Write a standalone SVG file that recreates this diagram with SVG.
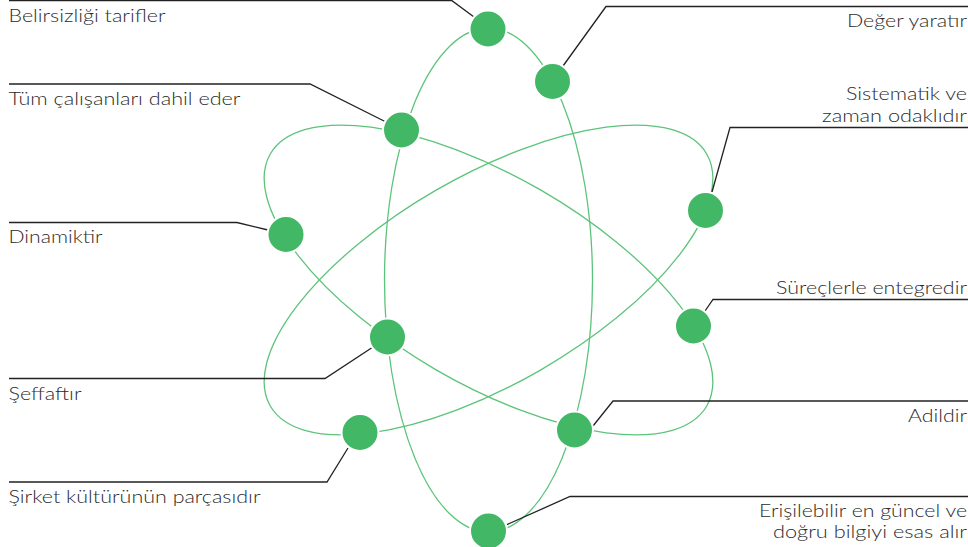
<svg xmlns="http://www.w3.org/2000/svg" width="968" height="547" viewBox="0 0 968 547">
<style>
.orbit{fill:none;stroke:#5cc47a;stroke-width:1.3}
.con{fill:none;stroke:#222;stroke-width:1.3}
.node{fill:#42b866;stroke:#fff;stroke-width:2}
.lbl{font-family:Lato,"Open Sans","Liberation Sans",sans-serif;font-weight:300;font-size:17px;fill:#2b2b2b}
.r{text-anchor:end}
</style>
<rect width="968" height="547" fill="#fff"/>
<g id="orbits">
<ellipse class="orbit" cx="488.5" cy="280" rx="104" ry="252"/>
<ellipse class="orbit" cx="488.5" cy="280" rx="252" ry="104" transform="rotate(30 488.5 280)"/>
<ellipse class="orbit" cx="488.5" cy="280" rx="252" ry="104" transform="rotate(-30 488.5 280)"/>
</g>
<g id="connectors">
<polyline class="con" points="9,0.7 452,0.7 474,17"/>
<polyline class="con" points="9,84 310,84 386,122"/>
<polyline class="con" points="9,222.5 237,222.5 268,230"/>
<polyline class="con" points="9,378.5 325,378.5 373,347"/>
<polyline class="con" points="9,482 327,482 348,448"/>
<polyline class="con" points="968,6.5 606,6.5 563,66"/>
<polyline class="con" points="968,127.5 730,127.5 712,192"/>
<polyline class="con" points="968,299.5 713,299.5 705,311"/>
<polyline class="con" points="968,401 613,401 593,426"/>
<polyline class="con" points="968,496.5 570,496.5 506,525"/>
</g>
<g id="n1"><circle class="node" cx="488" cy="29" r="18.5"/><text class="lbl" x="8.5" y="21.5" textLength="157" lengthAdjust="spacingAndGlyphs">Belirsizliği tarifler</text></g>
<g id="n2"><circle class="node" cx="552.5" cy="81.5" r="18.5"/><text class="lbl r" x="967" y="27" textLength="120" lengthAdjust="spacingAndGlyphs">Değer yaratır</text></g>
<g id="n3"><circle class="node" cx="401.5" cy="130" r="18.5"/><text class="lbl" x="8.5" y="105" textLength="232" lengthAdjust="spacingAndGlyphs">Tüm çalışanları dahil eder</text></g>
<g id="n4"><circle class="node" cx="286" cy="234.5" r="18.5"/><text class="lbl" x="8.5" y="243" textLength="94" lengthAdjust="spacingAndGlyphs">Dinamiktir</text></g>
<g id="n5"><circle class="node" cx="705.5" cy="210.5" r="18.5"/><text class="lbl r" x="967" y="100" textLength="121" lengthAdjust="spacingAndGlyphs">Sistematik ve</text><text class="lbl r" x="967" y="121.7" textLength="145" lengthAdjust="spacingAndGlyphs">zaman odaklıdır</text></g>
<g id="n6"><circle class="node" cx="693.5" cy="326" r="18.5"/><text class="lbl r" x="967" y="294" textLength="191" lengthAdjust="spacingAndGlyphs">Süreçlerle entegredir</text></g>
<g id="n7"><circle class="node" cx="387.5" cy="337" r="18.5"/><text class="lbl" x="8.5" y="400" textLength="73" lengthAdjust="spacingAndGlyphs">Şeffaftır</text></g>
<g id="n8"><circle class="node" cx="360" cy="432.5" r="18.5"/><text class="lbl" x="8.5" y="503" textLength="252" lengthAdjust="spacingAndGlyphs">Şirket kültürünün parçasıdır</text></g>
<g id="n9"><circle class="node" cx="574.5" cy="430" r="18.5"/><text class="lbl r" x="967" y="421.7" textLength="59" lengthAdjust="spacingAndGlyphs">Adildir</text></g>
<g id="n10"><circle class="node" cx="488.5" cy="531" r="18.5"/><text class="lbl r" x="967" y="517" textLength="208" lengthAdjust="spacingAndGlyphs">Erişilebilir en güncel ve</text><text class="lbl r" x="967" y="538" textLength="194" lengthAdjust="spacingAndGlyphs">doğru bilgiyi esas alır</text></g>
</svg>
